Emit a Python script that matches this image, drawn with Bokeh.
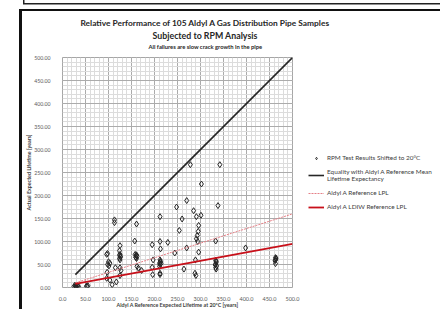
from bokeh.plotting import figure
from bokeh.models import (Range1d, SingleIntervalTicker, NumeralTickFormatter,
                          Legend, LegendItem, Title)
from bokeh.embed import file_html
from bokeh.resources import INLINE

# ---------------- data ----------------
ref_life = [25, 28, 30, 32, 35, 27, 33, 30, 29, 52, 55, 54,
            96, 98, 100, 103, 98, 101, 97, 96, 103, 108, 117, 113, 113, 115,
            125, 124, 125, 126, 124, 125, 125, 127, 125, 126, 124,
            161, 157, 158, 160, 162, 159, 161, 162, 165, 172, 160, 161,
            195, 212, 213, 212, 197, 212, 213, 212, 211, 214, 195, 196, 212, 212, 213, 211,
            229, 244, 248, 254, 260, 264, 270, 270, 278,
            285, 291, 301, 302, 296, 295, 293, 291, 294, 296, 289, 288, 290,
            338, 333, 342, 333, 334, 333, 335, 333, 334, 334, 332,
            398, 463, 464, 463, 463, 464, 462]
actual_life = [2, 3, 1, 4, 2, 5, 3, 3, 1, 3, 4, 2,
               72, 74, 56, 53, 50, 47, 33, 20, 16, 6, 12, 147, 141, 43,
               91, 80, 72, 66, 63, 60, 43, 37, 26, 68, 70,
               138, 101, 72, 70, 68, 66, 63, 46, 42, 37, 65, 71,
               93, 100, 84, 154, 60, 60, 55, 50, 46, 52, 44, 28, 31, 28, 57, 53,
               98, 75, 175, 124, 149, 40, 189, 86, 267,
               167, 154, 157, 225, 135, 122, 113, 106, 100, 77, 60, 31, 26,
               178, 101, 267, 59, 55, 51, 47, 43, 40, 57, 49,
               86, 65, 62, 60, 52, 64, 58]

eq_x = [28, 500]
eq_y = [28, 500]
lpl_x = [28, 500]
lpl_y = [10, 160]
ldiw_x = [28, 500]
ldiw_y = [8, 95]

x_ticks_interval = 50
y_ticks_interval = 50

title_1 = "Relative Performance of 105 Aldyl A Gas Distribution Pipe Samples"
title_2 = "Subjected to RPM Analysis"
subtitle = "All failures are slow crack growth in the pipe"
x_title = "Aldyl A Reference Expected Lifetime at 20°C [years]"
y_title = "Actual Expected Lifetime [years]"
legend_labels = ["RPM Test Results Shifted to 20°C",
                 "Equality with Aldyl A Reference Mean\nLifetime Expectancy",
                 "Aldyl A Reference LPL",
                 "Aldyl A LDIW Reference LPL"]

FONT = "Lato"

# ---------------- figure ----------------
p = figure(frame_width=230, frame_height=230,
           min_border_left=62, min_border_right=148,
           min_border_top=57, min_border_bottom=22,
           x_range=Range1d(0, 500), y_range=Range1d(0, 500),
           output_backend="svg", toolbar_location=None,
           border_fill_color=None, background_fill_color="white",
           outline_line_color="#a6a6a6")
p.styles = {"background": ("linear-gradient(#111,#111) 19px 9px / 3px 100% no-repeat, "
                           "linear-gradient(#111,#111) 19px 9px / 100% 2px no-repeat, "
                           "linear-gradient(#222,#222) 23px 3px / 100% 1.5px no-repeat, "
                           "linear-gradient(#222,#222) 23px 0px / 1.5px 4px no-repeat")}

xt = SingleIntervalTicker(interval=x_ticks_interval, num_minor_ticks=5)
yt = SingleIntervalTicker(interval=y_ticks_interval, num_minor_ticks=5)
p.xaxis.ticker = xt
p.yaxis.ticker = yt
p.xgrid.ticker = xt
p.ygrid.ticker = yt
for g in (p.xgrid, p.ygrid):
    g.grid_line_color = "#ababab"
    g.grid_line_width = 1
    g.minor_grid_line_color = "#dcdcdc"
    g.minor_grid_line_width = 1

p.xaxis.formatter = NumeralTickFormatter(format="0.0")
p.yaxis.formatter = NumeralTickFormatter(format="0.00")
for ax in (p.xaxis, p.yaxis):
    ax.axis_line_color = None
    ax.major_tick_line_color = None
    ax.minor_tick_line_color = None
    ax.major_label_text_font = FONT
    ax.major_label_text_font_size = "5.5px"
    ax.major_label_text_color = "#595959"
    ax.axis_label_text_font = FONT
    ax.axis_label_text_font_size = "5.3px"
    ax.axis_label_text_font_style = "bold"
    ax.axis_label_text_color = "#404040"
p.yaxis.major_label_text_font_size = "5.2px"
p.xaxis.major_label_standoff = 3
p.xaxis.axis_label_standoff = -2
p.yaxis.major_label_standoff = 6
p.yaxis.axis_label_standoff = -1
p.xaxis.axis_label = x_title
p.yaxis.axis_label = y_title

# ---------------- glyphs ----------------
pts = p.scatter(ref_life, actual_life, marker="diamond", size=6,
                fill_color=None, line_color="#262626", line_width=1)
eq = p.line(eq_x, eq_y, line_color="#262626", line_width=1.6)
lpl = p.line(lpl_x, lpl_y, line_color="#e57f86", line_width=1, line_dash="2 1")
ldiw = p.line(ldiw_x, ldiw_y, line_color="#c8101a", line_width=1.8)

legend = Legend(items=[LegendItem(label=legend_labels[0], renderers=[pts]),
                       LegendItem(label=legend_labels[1], renderers=[eq]),
                       LegendItem(label=legend_labels[2], renderers=[lpl]),
                       LegendItem(label=legend_labels[3], renderers=[ldiw])],
                location=(16, 77), orientation="vertical",
                label_text_font=FONT, label_text_font_size="6.4px",
                label_text_color="#404040", label_standoff=3,
                glyph_width=16, glyph_height=6, label_height=6,
                spacing=7, padding=0, margin=0,
                border_line_color=None, background_fill_color=None)
p.add_layout(legend, "right")

# ---------------- titles (stacked outward from the frame) ----------------
p.add_layout(Title(text=" ", text_font_size="4px", standoff=0), "above")
for txt, size, off in ((subtitle, "5.8px", 86), (title_2, "8.8px", 90), (title_1, "8.4px", 18)):
    p.add_layout(Title(text=txt, align="left", offset=off, vertical_align="middle",
                       standoff=0, text_font=FONT, text_font_size=size,
                       text_font_style="bold", text_color="#262626"), "above")

open("out.html", "w").write(file_html(p, INLINE))
